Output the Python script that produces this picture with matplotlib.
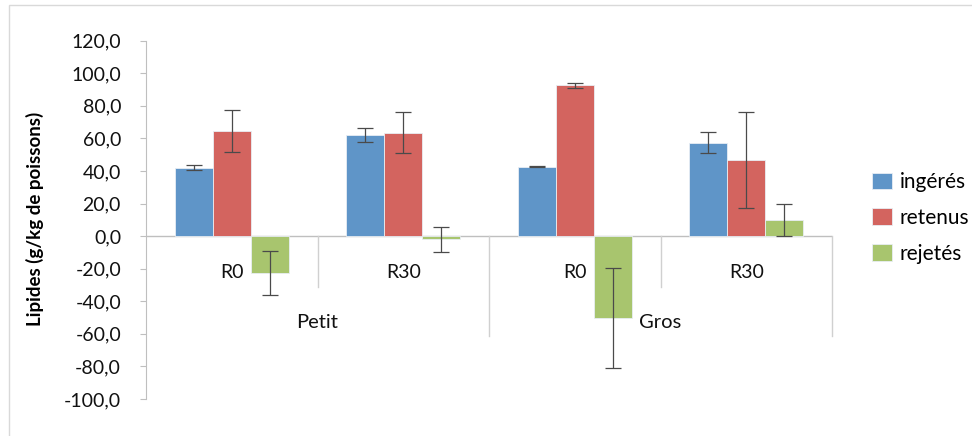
import matplotlib.pyplot as plt
import numpy as np
from matplotlib.patches import Rectangle

plt.rcParams['font.family'] = ['Lato', 'DejaVu Sans']

# Lipid balance per fish size and ration
groups = ["Petit", "Gros"]
rations = ["R0", "R30", "R0", "R30"]
series = ["ingérés", "retenus", "rejetés"]

ingeres = [42.0, 62.0, 42.7, 57.3]
retenus = [64.5, 63.5, 92.6, 46.8]
rejetes = [-22.8, -2.0, -50.3, 10.0]

ingeres_err = [1.5, 4.4, 0.4, 6.5]
retenus_err = [12.8, 12.7, 1.7, 29.6]
rejetes_err = [13.4, 7.6, 30.7, 9.8]

values = [ingeres, retenus, rejetes]
errors = [ingeres_err, retenus_err, rejetes_err]
colors = ["#5F95C8", "#D3645F", "#A8C56E"]

fig = plt.figure(figsize=(9.72, 4.36), dpi=100)
ax = fig.add_axes([146 / 972, 1 - 399 / 436, 686 / 972, (399 - 40.7) / 436])

x = np.arange(len(rations))
width = 1 / 4.5
for i, (vals, errs, col, name) in enumerate(zip(values, errors, colors, series)):
    pos = x + (i - 1) * width
    ax.bar(pos, vals, width, color=col, edgecolor="#E8EEF4", linewidth=0.6,
           label=name, zorder=2)
    ax.errorbar(pos, vals, yerr=errs, fmt="none", ecolor="#4A4A4A",
                elinewidth=0.9, capsize=6, capthick=0.9, zorder=3)

ax.set_xlim(-0.5, len(rations) - 0.5)
ax.set_ylim(-100, 120)
ax.set_yticks(np.arange(-100, 121, 20))
ax.set_yticklabels([f"{v:.1f}".replace(".", ",") for v in np.arange(-100, 121, 20)])
ax.set_xticks([])

for s in ["top", "right", "bottom"]:
    ax.spines[s].set_visible(False)
ax.spines["left"].set_color("#BFBFBF")
ax.tick_params(axis="y", length=4, color="#BFBFBF", labelsize=14, pad=14,
               labelcolor="#111111")

# zero line
ax.axhline(0, color="#BFBFBF", linewidth=1, zorder=1)

# multi-level category axis
grey = "#D0D0D0"
for b in [0.5, 2.5]:
    ax.plot([b, b], [0, -31.4], color=grey, linewidth=1, clip_on=False)
for b in [1.5, 3.5]:
    ax.plot([b, b], [0, -61.4], color=grey, linewidth=1, clip_on=False)

for xi, lab in zip(x, rations):
    ax.text(xi, -22.2, lab, ha="center", va="center", fontsize=14, color="#111111")
for gi, lab in enumerate(groups):
    ax.text(2 * gi + 0.5, -52.9, lab, ha="center", va="center", fontsize=14.5,
            color="#111111")

fig.text(35 / 972, 1 - 219 / 436, "Lipides (g/kg de poissons)", rotation=90,
         ha="center", va="center", fontsize=13.5, fontweight="bold")

fig.legend(loc="center left", bbox_to_anchor=(862 / 972, 1 - 218 / 436),
           frameon=False, fontsize=15, handlelength=0.95, handleheight=0.85,
           handletextpad=0.35, labelspacing=0.75, borderpad=0)

# chart area border
fig.patches.append(Rectangle((9 / 972, -0.1), 1.2, 1.1 - 5.5 / 436,
                             transform=fig.transFigure, fill=False,
                             edgecolor="#D9D9D9", linewidth=1))

fig.savefig("out.png", dpi=100)
